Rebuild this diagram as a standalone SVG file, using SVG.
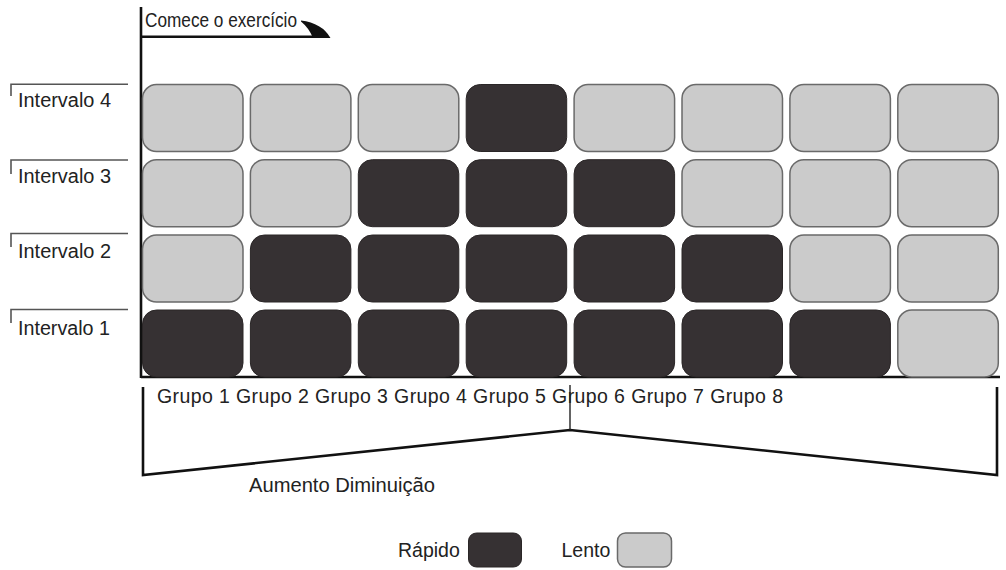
<svg xmlns="http://www.w3.org/2000/svg" width="1006" height="570" viewBox="0 0 1006 570">
<style>
.t{font-family:"Liberation Sans",Arial,sans-serif;font-size:19.5px;fill:#222}
.L{fill:#cbcbcb;stroke:#6a6a6a;stroke-width:1.5}
.D{fill:#363133;stroke:#2a2627;stroke-width:1}
.br{fill:none;stroke:#555;stroke-width:1.6}
.ax{fill:none;stroke:#111;stroke-width:2.6}
</style>
<rect width="1006" height="570" fill="#fff"/>
<defs>
<rect id="b" width="100.5" height="67" rx="14" ry="14"/>
</defs>
<g id="connectors">
<line class="ax" x1="141" y1="7" x2="141" y2="378"/>
<line class="ax" x1="141" y1="36.8" x2="318" y2="36.8" stroke-width="3"/>
<path d="M301,20.5 Q322,23 330.5,38 L313,38 Q309,28 301,21.5 Z" fill="#111"/>
<line class="ax" x1="141" y1="377" x2="1000" y2="377" stroke-width="3"/>
<polyline class="ax" points="143,387 143,475 570,430 997,475 997,387" stroke-width="2.6"/>
<line x1="570" y1="385" x2="570" y2="430" stroke="#222" stroke-width="1.4"/>
</g>
<g id="labels-interval">
<g id="int4"><polyline class="br" points="11,96 11,84.3 128,84.3"/><text class="t" x="18" y="107" textLength="93" lengthAdjust="spacingAndGlyphs">Intervalo 4</text></g>
<g id="int3"><polyline class="br" points="11,174 11,160 128,160"/><text class="t" x="18" y="183" textLength="93" lengthAdjust="spacingAndGlyphs">Intervalo 3</text></g>
<g id="int2"><polyline class="br" points="11,247 11,233.5 128,233.5"/><text class="t" x="18" y="258" textLength="93" lengthAdjust="spacingAndGlyphs">Intervalo 2</text></g>
<g id="int1"><polyline class="br" points="11,323 11,309.5 128,309.5"/><text class="t" x="18" y="335" textLength="92" lengthAdjust="spacingAndGlyphs">Intervalo 1</text></g>
</g>
<text class="t" x="145" y="26.5" font-size="18" textLength="152" lengthAdjust="spacingAndGlyphs">Comece o exercício</text>
<g id="row4">
<use href="#b" class="L" x="142.5" y="84.5"/>
<use href="#b" class="L" x="250.4" y="84.5"/>
<use href="#b" class="L" x="358.3" y="84.5"/>
<use href="#b" class="D" x="466.2" y="84.5"/>
<use href="#b" class="L" x="574.1" y="84.5"/>
<use href="#b" class="L" x="682" y="84.5"/>
<use href="#b" class="L" x="789.9" y="84.5"/>
<use href="#b" class="L" x="897.8" y="84.5"/>
</g>
<g id="row3">
<use href="#b" class="L" x="142.5" y="159.7"/>
<use href="#b" class="L" x="250.4" y="159.7"/>
<use href="#b" class="D" x="358.3" y="159.7"/>
<use href="#b" class="D" x="466.2" y="159.7"/>
<use href="#b" class="D" x="574.1" y="159.7"/>
<use href="#b" class="L" x="682" y="159.7"/>
<use href="#b" class="L" x="789.9" y="159.7"/>
<use href="#b" class="L" x="897.8" y="159.7"/>
</g>
<g id="row2">
<use href="#b" class="L" x="142.5" y="235"/>
<use href="#b" class="D" x="250.4" y="235"/>
<use href="#b" class="D" x="358.3" y="235"/>
<use href="#b" class="D" x="466.2" y="235"/>
<use href="#b" class="D" x="574.1" y="235"/>
<use href="#b" class="D" x="682" y="235"/>
<use href="#b" class="L" x="789.9" y="235"/>
<use href="#b" class="L" x="897.8" y="235"/>
</g>
<g id="row1">
<use href="#b" class="D" x="142.5" y="310"/>
<use href="#b" class="D" x="250.4" y="310"/>
<use href="#b" class="D" x="358.3" y="310"/>
<use href="#b" class="D" x="466.2" y="310"/>
<use href="#b" class="D" x="574.1" y="310"/>
<use href="#b" class="D" x="682" y="310"/>
<use href="#b" class="D" x="789.9" y="310"/>
<use href="#b" class="L" x="897.8" y="310"/>
</g>
<text class="t" x="157" y="403" textLength="626" lengthAdjust="spacing">Grupo 1 Grupo 2 Grupo 3 Grupo 4 Grupo 5 Grupo 6 Grupo 7 Grupo 8</text>
<text class="t" x="249" y="491.5" textLength="186" lengthAdjust="spacingAndGlyphs">Aumento Diminuição</text>
<g id="legend-rapido">
<text class="t" x="398" y="557">Rápido</text>
<rect class="D" x="468.5" y="533" width="53" height="34" rx="8"/>
</g>
<g id="legend-lento">
<text class="t" x="561.5" y="557">Lento</text>
<rect class="L" x="617.5" y="533" width="54" height="34" rx="8"/>
</g>
</svg>
